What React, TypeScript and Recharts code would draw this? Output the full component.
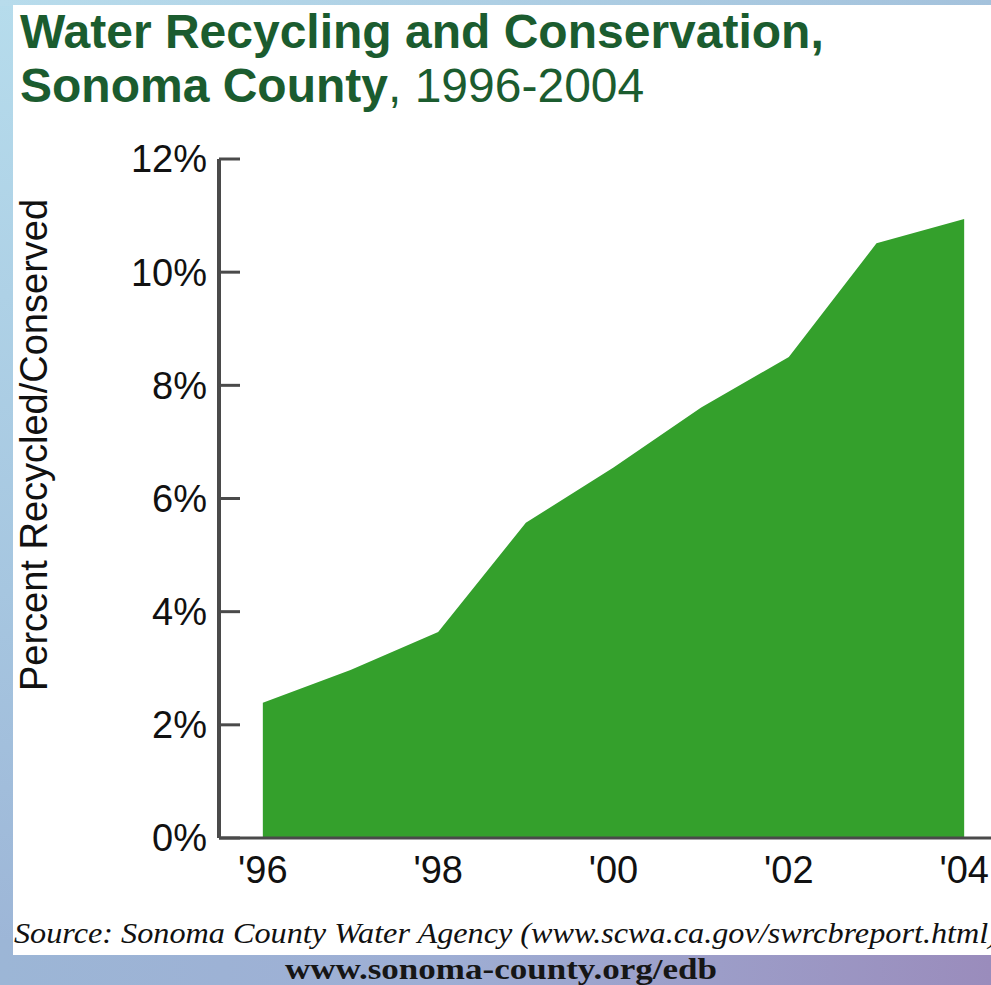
import { AreaChart, Area, XAxis, YAxis } from 'recharts';

// years on the x axis
const years = [1996, 1997, 1998, 1999, 2000, 2001, 2002, 2003, 2004];
// percent of water recycled / conserved
const percentSaved = [2.39, 2.97, 3.64, 5.57, 6.55, 7.61, 8.5, 10.51, 10.94];
const yTicks = [0, 2, 4, 6, 8, 10, 12];
const xTicks = [1996, 1998, 2000, 2002, 2004];

const data = years.map((year, i) => ({ year, pct: percentSaved[i] }));

const FONT = '"Liberation Sans", Arial, sans-serif';
const SERIF = '"Liberation Serif", "Times New Roman", serif';
const TITLE_GREEN = '#1b5c2f';
const AXIS = '#4a4a4a';
const TICK_GAP = 12;

// y tick: label left of the axis, tick mark pointing into the plot
function InwardTick(props: any) {
  const { x, y, payload } = props;
  return (
    <g>
      <line x1={x + TICK_GAP} x2={x + TICK_GAP + 21} y1={y} y2={y} stroke={AXIS} strokeWidth={3} />
      <text x={x} y={y} dy="0.355em" textAnchor="end" fill="#111" fontSize={38} fontFamily={FONT}>
        {`${payload.value}%`}
      </text>
    </g>
  );
}

export default function App() {
  return (
    <div style={{
      position: 'absolute', left: 0, top: 0, width: 991, height: 985, overflow: 'hidden',
      background: 'linear-gradient(180deg, #b6dcec 0%, #a6c6e0 60%, #9cb4d6 100%)',
    }}>
      {/* bottom strip gradient */}
      <div style={{
        position: 'absolute', left: 0, top: 940, width: 991, height: 45,
        background: 'linear-gradient(90deg, #9cb6d6 0%, #9eaed4 45%, #9a8cbc 100%)',
      }} />
      {/* top strip */}
      <div style={{
        position: 'absolute', left: 0, top: 0, width: 991, height: 6,
        background: 'linear-gradient(90deg, #b8dcec 0%, #a4c2dc 100%)',
      }} />

      {/* white panel */}
      <div style={{ position: 'absolute', left: 13, top: 5, width: 990, height: 950, background: '#ffffff' }} />

      <svg width={991} height={985} style={{ position: 'absolute', left: 0, top: 0 }}>
        <text x={20} y={48} fontFamily={FONT} fontWeight={700} fontSize={48} fill={TITLE_GREEN}>
          Water Recycling and Conservation,
        </text>
        <text x={20} y={102} fontFamily={FONT} fontSize={48} fill={TITLE_GREEN}>
          <tspan fontWeight={700}>Sonoma County</tspan>
          <tspan>, 1996-2004</tspan>
        </text>
        <text
          x={0} y={0}
          transform="translate(47, 445) rotate(-90)"
          textAnchor="middle"
          fontFamily={FONT}
          fontSize={38}
          fill="#111"
        >
          Percent Recycled/Conserved
        </text>
        <text
          x={14} y={943}
          fontFamily={SERIF}
          fontStyle="italic"
          fontSize={29}
          textLength={985}
          lengthAdjust="spacingAndGlyphs"
          fill="#111"
        >
          Source: Sonoma County Water Agency (www.scwa.ca.gov/swrcbreport.html)
        </text>
        <text
          x={285} y={979}
          fontFamily={SERIF}
          fontWeight={700}
          fontSize={30}
          textLength={432}
          lengthAdjust="spacingAndGlyphs"
          fill="#161616"
        >
          www.sonoma-county.org/edb
        </text>
      </svg>

      <div style={{ position: 'absolute', left: 0, top: 0 }}>
        <AreaChart
          width={1010}
          height={900}
          data={data}
          margin={{ top: 159, right: 2, bottom: 2, left: 119 }}
        >
          <XAxis
            dataKey="year"
            type="number"
            domain={[1995.5, 2004.5]}
            ticks={xTicks}
            tickFormatter={(v: number) => "'" + String(v).slice(2)}
            tickSize={0}
            tickMargin={18}
            height={60}
            axisLine={{ stroke: AXIS, strokeWidth: 3 }}
            tick={{ fill: '#111', fontSize: 38, fontFamily: FONT }}
          />
          <YAxis
            domain={[0, 12]}
            ticks={yTicks}
            width={100}
            tickSize={0}
            tickMargin={TICK_GAP}
            tickLine={false}
            axisLine={{ stroke: AXIS, strokeWidth: 4 }}
            tick={InwardTick}
            interval={0}
          />
          <Area
            type="linear"
            dataKey="pct"
            stroke="none"
            fill="#34a02c"
            fillOpacity={1}
            isAnimationActive={false}
          />
        </AreaChart>
      </div>
    </div>
  );
}
